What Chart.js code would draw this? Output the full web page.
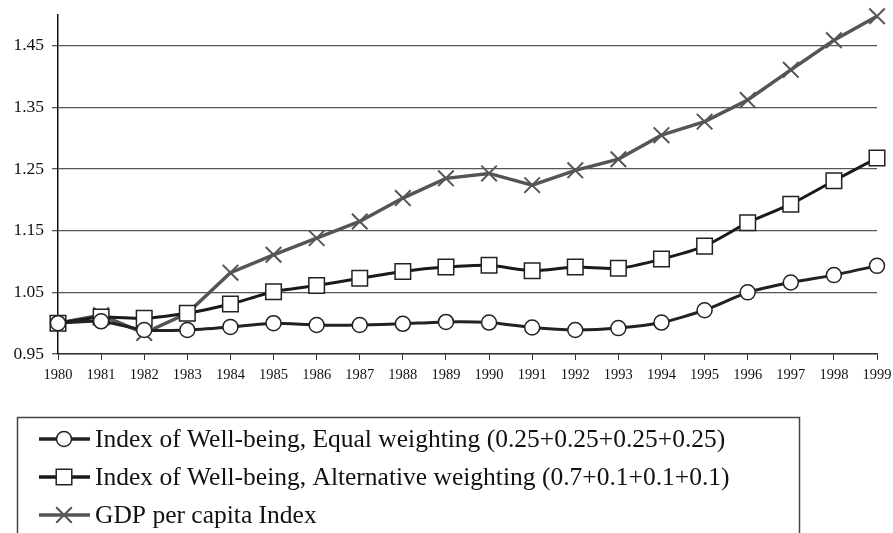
<!DOCTYPE html>
<html>
<head>
<meta charset="utf-8">
<script src="https://cdn.jsdelivr.net/npm/chart.js@4.4.0/dist/chart.umd.min.js"></script>
<style>
  html, body { margin: 0; padding: 0; background: #fff; }
  #wrap { width: 893px; height: 533px; position: relative; }
</style>
</head>
<body>
<div id="wrap"><canvas id="chart"></canvas></div>
<script>
// Data
const years = ['1980', '1981', '1982', '1983', '1984', '1985', '1986', '1987', '1988', '1989',
  '1990', '1991', '1992', '1993', '1994', '1995', '1996', '1997', '1998', '1999'];

const equalWeighting = [1.000, 1.003, 0.989, 0.989, 0.994, 1.000, 0.997, 0.997, 0.999, 1.002,
  1.001, 0.993, 0.989, 0.992, 1.001, 1.021, 1.050, 1.066, 1.078, 1.093];

const altWeighting = [1.000, 1.010, 1.008, 1.016, 1.031, 1.051, 1.061, 1.073, 1.084, 1.091,
  1.094, 1.085, 1.091, 1.089, 1.104, 1.125, 1.163, 1.193, 1.231, 1.268];

const gdpIndex = [1.000, 1.013, 0.984, 1.016, 1.082, 1.111, 1.138, 1.165, 1.203, 1.235,
  1.243, 1.224, 1.248, 1.266, 1.305, 1.327, 1.362, 1.411, 1.459, 1.498];

const yTicks = [0.95, 1.05, 1.15, 1.25, 1.35, 1.45];

const seriesLabels = [
  'Index of Well-being, Equal weighting (0.25+0.25+0.25+0.25)',
  'Index of Well-being, Alternative weighting (0.7+0.1+0.1+0.1)',
  'GDP per capita Index'
];

const serif = '"Liberation Serif", "DejaVu Serif", serif';

// draws the boxed legend under the plot, line + marker like the original
const boxLegend = {
  id: 'boxLegend',
  afterDraw(chart) {
    const ctx = chart.ctx;
    ctx.save();
    ctx.strokeStyle = '#444';
    ctx.lineWidth = 1.5;
    ctx.strokeRect(17.5, 417.5, 782, 140);
    chart.data.datasets.forEach((ds, i) => {
      const y = 439 + i * 38;
      ctx.strokeStyle = ds.borderColor;
      ctx.lineWidth = 3.5;
      ctx.beginPath();
      ctx.moveTo(39, y);
      ctx.lineTo(90, y);
      ctx.stroke();
      ctx.fillStyle = '#fff';
      ctx.strokeStyle = ds.pointBorderColor;
      ctx.lineWidth = ds.pointBorderWidth;
      Chart.helpers.drawPoint(ctx, {
        pointStyle: ds.pointStyle,
        radius: ds.pointRadius,
        borderWidth: ds.pointBorderWidth
      }, 64, y);
      ctx.fillStyle = '#111';
      ctx.font = '25.5px ' + serif;
      ctx.textBaseline = 'middle';
      ctx.fillText(ds.label, 95, y + 1);
    });
    ctx.restore();
  }
};

new Chart(document.getElementById('chart'), {
  type: 'line',
  data: {
    labels: years,
    datasets: [
      {
        label: seriesLabels[0],
        data: equalWeighting,
        borderColor: '#222',
        borderWidth: 3,
        pointStyle: 'circle',
        pointRadius: 7.5,
        pointBorderWidth: 1.5,
        pointBorderColor: '#222',
        pointBackgroundColor: '#fff',
        tension: 0.2,
        clip: false
      },
      {
        label: seriesLabels[1],
        data: altWeighting,
        borderColor: '#1a1a1a',
        borderWidth: 3,
        pointStyle: 'rect',
        pointRadius: 11,
        pointBorderWidth: 1.5,
        pointBorderColor: '#222',
        pointBackgroundColor: '#fff',
        tension: 0.2,
        clip: false
      },
      {
        label: seriesLabels[2],
        data: gdpIndex,
        borderColor: '#555',
        borderWidth: 3.5,
        pointStyle: 'crossRot',
        pointRadius: 11,
        pointBorderWidth: 2,
        pointBorderColor: '#555',
        pointBackgroundColor: '#fff',
        tension: 0,
        clip: false
      }
    ]
  },
  options: {
    responsive: true,
    maintainAspectRatio: false,
    animation: false,
    layout: { padding: { top: 15, right: 16, left: 0, bottom: 0 } },
    plugins: {
      legend: { display: false },
      tooltip: { enabled: false }
    },
    scales: {
      x: {
        offset: false,
        afterFit(scale) {
          scale.height = 179;
          scale.paddingLeft = 0;
          scale.paddingRight = 0;
        },
        grid: {
          display: true,
          drawOnChartArea: false,
          drawTicks: true,
          tickLength: 6,
          color: '#333'
        },
        border: { display: true, color: '#333', width: 1.5 },
        ticks: {
          autoSkip: false,
          maxRotation: 0,
          padding: 6,
          color: '#111',
          font: { family: serif, size: 14.5 }
        }
      },
      y: {
        min: 0.95,
        max: 1.5,
        afterFit(scale) {
          scale.width = 58;
          scale.paddingTop = 0;
          scale.paddingBottom = 0;
        },
        afterBuildTicks(scale) { scale.ticks = yTicks.map(v => ({ value: v })); },
        grid: {
          color: '#555',
          lineWidth: 1.3,
          drawTicks: true,
          tickLength: 6
        },
        border: { display: true, color: '#111', width: 1.5 },
        ticks: {
          padding: 8,
          color: '#111',
          font: { family: serif, size: 17.5 },
          callback: v => v.toFixed(2)
        }
      }
    }
  },
  plugins: [boxLegend]
});
</script>
</body>
</html>
